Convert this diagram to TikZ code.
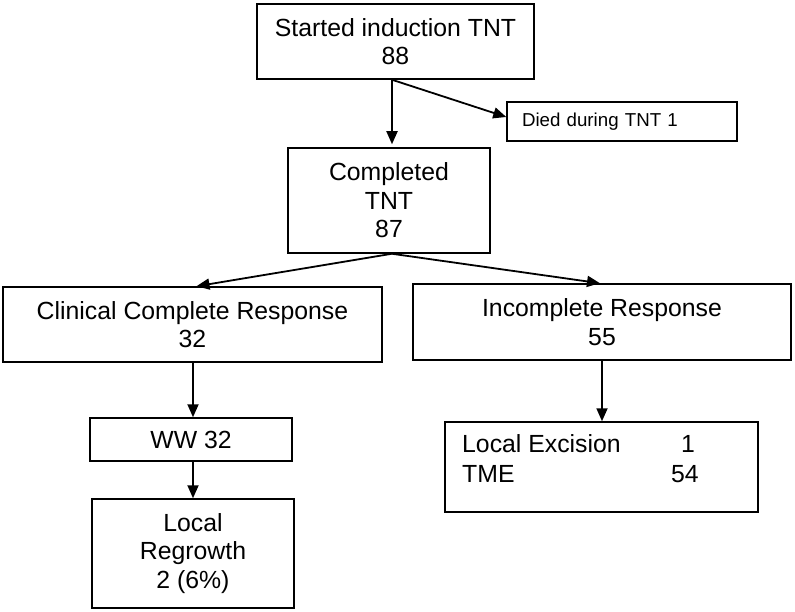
\documentclass[tikz,border=0pt]{standalone}
\usepackage{fontspec}
\setmainfont{Liberation Sans}
\usetikzlibrary{arrows.meta}
\begin{document}
\begin{tikzpicture}[x=1pt,y=-1pt,
  box/.style={draw, line width=1.5pt, inner sep=0pt, align=center, font=\fontsize{24.8}{28.5}\selectfont},
  txt/.style={inner sep=0pt, font=\fontsize{24.8}{28.5}\selectfont},
  arr/.style={line width=1.8pt, -{Triangle[length=13pt,width=11pt]}}]
\useasboundingbox (0,0) rectangle (795,612);
\node[box, minimum width=277pt, minimum height=75pt] (start) at (395.5,41.5) {Started induction TNT\\88};
\node[box, align=left, text width=200pt, inner xsep=15pt, minimum height=39pt, font=\fontsize{18.7}{22}\selectfont] (died) at (622,121.5) {Died during TNT 1};
\node[box, minimum width=202pt, minimum height=105pt] (comp) at (389,200.5) {Completed\\TNT\\87};
\node[box, minimum width=379pt, minimum height=75pt] (ccr) at (192.5,324.5) {Clinical Complete Response\\32};
\node[box, minimum width=378pt, minimum height=76pt] (inc) at (602,322) {Incomplete Response\\55};
\node[box, minimum width=202pt, minimum height=43pt] (ww) at (191,439.5) {WW 32};
\node[box, minimum width=202pt, minimum height=109pt] (reg) at (193,553.5) {Local\\Regrowth\\2 (6\%)};
\node[box, minimum width=313pt, minimum height=90pt] (le) at (601.5,467) {};
\node[txt, anchor=base west] (le1) at (462,452) {Local Excision};
\node[txt, anchor=base west] (le1n) at (681,452) {1};
\node[txt, anchor=base west] (tme) at (462,482) {TME};
\node[txt, anchor=base west] (tmen) at (671,482) {54};
\draw[arr] ([xshift=-3.5pt]start.south) -- ([xshift=3pt,yshift=3pt]comp.north);
\draw[arr] ([xshift=-3.5pt]start.south) -- ([yshift=4.5pt]died.west);
\draw[arr] ([xshift=3pt]comp.south) -- ([xshift=4pt]ccr.north);
\draw[arr] ([xshift=3pt]comp.south) -- ([xshift=-2pt]inc.north);
\draw[arr] ([xshift=0.5pt]ccr.south) -- ([xshift=2pt]ww.north);
\draw[arr] (inc.south) -- ([xshift=0.5pt]le.north);
\draw[arr] ([xshift=2pt]ww.south) -- (reg.north);
\end{tikzpicture}
\end{document}
